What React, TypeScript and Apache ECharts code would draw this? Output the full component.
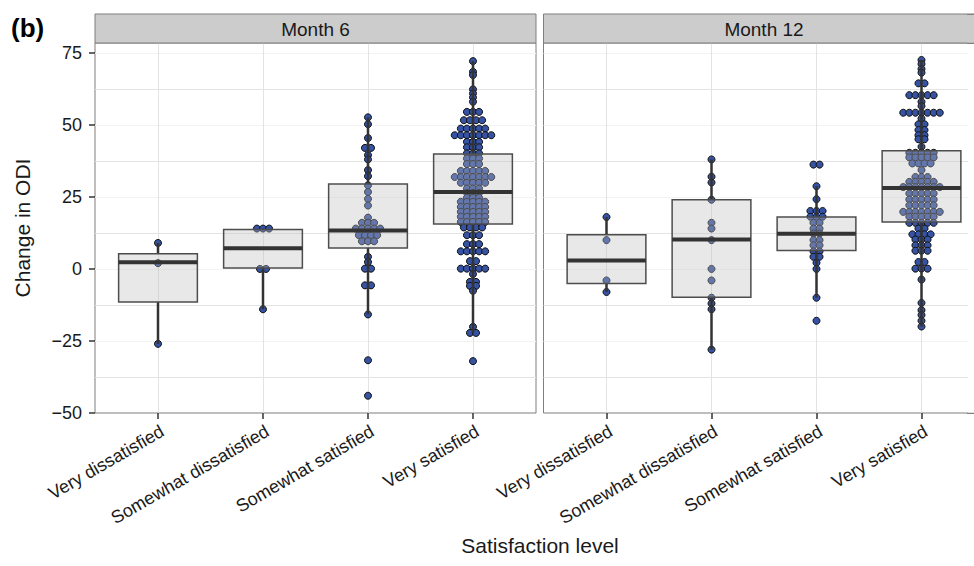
import React, { useEffect, useRef } from "react";
import * as echarts from "echarts";

// ---------- data ----------
const categories = ["Very dissatisfied", "Somewhat dissatisfied", "Somewhat satisfied", "Very satisfied"];
const panels = ["Month 6", "Month 12"];
const yTickValues = [-50, -25, 0, 25, 50, 75];

// dots: [value, number of dots stacked side by side at that value]
const m6VeryDissatisfied: [number, number][] = [[9, 1], [2, 1], [-26, 1]];
const m6SomewhatDissatisfied: [number, number][] = [[14, 3], [0, 2], [-14, 1]];
const m6SomewhatSatisfied: [number, number][] = [
  [52.6, 1], [50.2, 1], [45.4, 1], [42, 2], [39.5, 1], [38, 1], [34.3, 1], [32.2, 1], [29, 1], [26.7, 1],
  [24.3, 1], [22, 1], [17.8, 1], [16, 3], [14, 5], [11.7, 4], [9.6, 3], [4.2, 1], [2.4, 1], [0.1, 2],
  [-5.7, 2], [-15.8, 1], [-31.7, 1], [-44, 1],
];
const m6VerySatisfied: [number, number][] = [
  [72.1, 1], [68.4, 1], [67.3, 1], [62.3, 1], [60.9, 1], [59.5, 1], [58, 1], [54.5, 3], [51.6, 4], [48.7, 5],
  [46.4, 7], [44.1, 3], [42.2, 3], [40.1, 3], [38.3, 3], [36.4, 3], [34, 5], [31.9, 7], [29.9, 5], [27.9, 3],
  [26.4, 3], [24.7, 3], [23.3, 5], [21.5, 5], [19.8, 5], [18.1, 5], [16.3, 5], [14.4, 4], [11.7, 3], [8.6, 3],
  [6.1, 5], [2.7, 2], [0.1, 5], [-1.8, 1], [-4.5, 2], [-5.9, 2], [-7.6, 1], [-20.1, 1], [-22.2, 2], [-32, 1],
];

const m12VeryDissatisfied: [number, number][] = [[18, 1], [10, 1], [-4, 1], [-8, 1]];
const m12SomewhatDissatisfied: [number, number][] = [
  [38, 1], [32, 1], [30, 1], [24, 1], [16, 1], [14, 1], [10, 1], [0, 1], [-4, 1], [-10, 1], [-12, 1], [-14, 1], [-28, 1],
];
const m12SomewhatSatisfied: [number, number][] = [
  [36.2, 2], [28.7, 1], [24.2, 1], [20.1, 3], [18.1, 3], [16, 2], [14, 2], [12.3, 2], [10, 2], [8.2, 2],
  [6.1, 2], [4.2, 2], [2.1, 1], [0, 1], [-10, 1], [-18, 1],
];
const m12VerySatisfied: [number, number][] = [
  [72.5, 1], [71.1, 1], [69.4, 1], [68.1, 1], [64.4, 2], [60.3, 5], [58, 1], [56.5, 1], [54.2, 7], [52.2, 1],
  [50.2, 2], [48.2, 2], [46.4, 2], [45, 2], [42.4, 1], [40.3, 5], [38.7, 5], [36.6, 4], [34.3, 1], [31.9, 3],
  [30.2, 5], [28.4, 7], [26.2, 5], [24.1, 5], [22.1, 5], [19.8, 7], [18.1, 5], [16, 5], [14, 2], [12, 4],
  [10.2, 3], [8.2, 3], [6.3, 3], [2.4, 2], [0.1, 3], [-3.7, 1], [-11.8, 1], [-14.3, 1], [-16, 1], [-18, 1], [-20, 1],
];

// boxes: [lower whisker, Q1, median, Q3, upper whisker]
const m6Boxes: number[][] = [
  [-26, -11.5, 2.3, 5.3, 9],
  [-14, 0.3, 7.2, 13.7, 14],
  [-15.8, 7.3, 13.3, 29.5, 52.6],
  [-22.2, 15.6, 26.7, 39.9, 72.1],
];
const m12Boxes: number[][] = [
  [-8, -5.1, 2.9, 11.9, 18],
  [-28, -9.8, 10.2, 24, 38],
  [-10, 6.4, 12.2, 18, 28.7],
  [-20, 16.3, 28.1, 41, 72.5],
];

const m6Dots = [m6VeryDissatisfied, m6SomewhatDissatisfied, m6SomewhatSatisfied, m6VerySatisfied];
const m12Dots = [m12VeryDissatisfied, m12SomewhatDissatisfied, m12SomewhatSatisfied, m12VerySatisfied];

// ---------- styling / layout ----------
const FONT = "'Liberation Sans', Arial, Helvetica, sans-serif";
const DOT_STEP = 0.058; // horizontal spacing of stacked dots, in category units
const BOX_HALF = 0.375;
const Y_MIN = -50;
const Y_MAX = 78.4;
const GRID_TOP = 43;
const GRID_H = 370;
const GRID_W = 441;
const X_MIN = 0.4;
const X_MAX = 4.6;
const LEFT0 = 95;
const LEFT1 = 543.5; // right panel runs past the page edge (cropped)
const STRIP_TOP = 14;
const TICK_FONT = 18;
const STRIP_FONT = 19;
const TITLE_FONT = 21;
const BORDER = "#7f7f7f";
const STRIP_FILL = "#cccccc";
const PAGE_W = 974;
const PAGE_H = 566;
const EDGE_X = 968; // page-edge cover start

function dotPoints(groups: [number, number][][]) {
  const pts: number[][] = [];
  groups.forEach((g, gi) => {
    g.forEach(([v, n]) => {
      for (let i = 0; i < n; i++) {
        pts.push([gi + 1 + (i - (n - 1) / 2) * DOT_STEP, v]);
      }
    });
  });
  return pts;
}

function boxData(boxes: number[][]) {
  return boxes.map((b, i) => [i + 1, ...b]);
}

const renderBox = (params: any, api: any) => {
  const x = api.value(0);
  const lo = api.coord([x, api.value(1)]);
  const q1 = api.coord([x, api.value(2)]);
  const med = api.coord([x, api.value(3)]);
  const q3 = api.coord([x, api.value(4)]);
  const hi = api.coord([x, api.value(5)]);
  const hw = api.size([BOX_HALF, 0])[0];
  const cx = q1[0];
  return {
    type: "group",
    children: [
      { type: "line", shape: { x1: cx, y1: hi[1], x2: cx, y2: q3[1] }, style: { stroke: "#333333", lineWidth: 2.5 } },
      { type: "line", shape: { x1: cx, y1: q1[1], x2: cx, y2: lo[1] }, style: { stroke: "#333333", lineWidth: 2.5 } },
      {
        type: "rect",
        shape: { x: cx - hw, y: q3[1], width: hw * 2, height: q1[1] - q3[1] },
        style: { fill: "rgba(190,190,190,0.35)", stroke: "#4d4d4d", lineWidth: 1.5 },
      },
      { type: "line", shape: { x1: cx - hw, y1: med[1], x2: cx + hw, y2: med[1] }, style: { stroke: "#333333", lineWidth: 4 } },
    ],
  };
};

function xAxisFor(gridIndex: number) {
  return {
    type: "value",
    gridIndex,
    min: X_MIN,
    max: X_MAX,
    axisLine: { show: false, onZero: false },
    axisTick: { show: true, customValues: [1, 2, 3, 4], length: 6, lineStyle: { color: "#333333", width: 1.5 } },
    axisLabel: {
      customValues: [1, 2, 3, 4],
      formatter: (v: number) => categories[Math.round(v) - 1] || "",
      rotate: 30,
      align: "right",
      verticalAlign: "top",
      margin: 9,
      fontSize: TICK_FONT,
      fontFamily: FONT,
      color: "#1a1a1a",
    },
    splitLine: { show: true, lineStyle: { color: "#e3e3e3", width: 1 } },
  };
}

function gridYAxis(gridIndex: number) {
  return {
    type: "value",
    gridIndex,
    min: Y_MIN,
    max: Y_MAX,
    interval: 12.5,
    position: "left",
    axisLine: { show: false, onZero: false },
    axisTick: { show: false },
    axisLabel: { show: false },
    splitLine: {
      show: true,
      showMinLine: false,
      showMaxLine: false,
      lineStyle: { color: ["#e3e3e3", "#f3f3f3"], width: 1 },
    },
  };
}

const gridBase = {
  top: GRID_TOP,
  width: GRID_W,
  height: GRID_H,
  containLabel: false,
  outerBoundsMode: "none",
  show: true,
  borderColor: BORDER,
  borderWidth: 1,
  backgroundColor: "#ffffff",
};

export default function App() {
  const ref = useRef<HTMLDivElement>(null);
  useEffect(() => {
    if (!ref.current) return;
    const chart = echarts.init(ref.current, undefined, { renderer: "svg" });
    const textStyleBase = { fontFamily: FONT, fill: "#1a1a1a" };
    const strip = (left: number) => ({
      type: "rect",
      z: 100,
      shape: { x: left, y: STRIP_TOP, width: GRID_W, height: GRID_TOP - STRIP_TOP },
      style: { fill: STRIP_FILL, stroke: BORDER, lineWidth: 1 },
    });
    const stripText = (left: number, text: string) => ({
      type: "text",
      z: 101,
      x: left + GRID_W / 2,
      y: 29,
      style: { ...textStyleBase, text, fontSize: STRIP_FONT, align: "center", verticalAlign: "middle" },
    });
    const edgeLine = (y: number) => ({
      type: "line",
      z: 302,
      shape: { x1: EDGE_X - 1, y1: y, x2: PAGE_W + 2, y2: y },
      style: { stroke: BORDER, lineWidth: 1 },
    });
    chart.setOption({
      animation: false,
      backgroundColor: "#ffffff",
      grid: [
        { ...gridBase, left: LEFT0 },
        { ...gridBase, left: LEFT1 },
      ],
      xAxis: [xAxisFor(0), xAxisFor(1)],
      yAxis: [
        gridYAxis(0),
        {
          type: "value",
          gridIndex: 0,
          min: Y_MIN,
          max: Y_MAX,
          position: "left",
          axisLine: { show: false, onZero: false },
          axisTick: { show: true, customValues: yTickValues, length: 6, lineStyle: { color: "#333333", width: 1.5 } },
          axisLabel: {
            customValues: yTickValues,
            margin: 13,
            fontSize: TICK_FONT,
            fontFamily: FONT,
            color: "#1a1a1a",
            formatter: (v: number) => (v < 0 ? "\u2212" + Math.abs(v) : String(v)),
          },
          splitLine: { show: false },
        },
        gridYAxis(1),
      ],
      series: [
        {
          type: "scatter",
          xAxisIndex: 0,
          yAxisIndex: 0,
          data: dotPoints(m6Dots),
          symbolSize: 7,
          itemStyle: { color: "#3552a3", borderColor: "#111111", borderWidth: 1, opacity: 1 },
          z: 2,
        },
        {
          type: "custom",
          xAxisIndex: 0,
          yAxisIndex: 0,
          data: boxData(m6Boxes),
          encode: { x: 0, y: [1, 2, 3, 4, 5] },
          renderItem: renderBox,
          z: 3,
        },
        {
          type: "scatter",
          xAxisIndex: 1,
          yAxisIndex: 2,
          data: dotPoints(m12Dots),
          symbolSize: 7,
          itemStyle: { color: "#3552a3", borderColor: "#111111", borderWidth: 1, opacity: 1 },
          z: 2,
        },
        {
          type: "custom",
          xAxisIndex: 1,
          yAxisIndex: 2,
          data: boxData(m12Boxes),
          encode: { x: 0, y: [1, 2, 3, 4, 5] },
          renderItem: renderBox,
          z: 3,
        },
      ],
      graphic: [
        strip(LEFT0),
        strip(LEFT1),
        stripText(LEFT0, panels[0]),
        stripText(LEFT1, panels[1]),
        {
          type: "text",
          z: 101,
          x: 11,
          y: 28,
          style: { ...textStyleBase, text: "(b)", fontSize: 26, fontWeight: "bold", align: "left", verticalAlign: "middle", fill: "#000" },
        },
        {
          type: "text",
          z: 101,
          x: 22,
          y: 228,
          rotation: Math.PI / 2,
          style: { ...textStyleBase, text: "Change in ODI", fontSize: TITLE_FONT, align: "center", verticalAlign: "middle" },
        },
        {
          type: "text",
          z: 101,
          x: 540,
          y: 545,
          style: { ...textStyleBase, text: "Satisfaction level", fontSize: TITLE_FONT, align: "center", verticalAlign: "middle" },
        },
        // the reference is cropped at the right page edge: no closing border there
        {
          type: "rect",
          z: 300,
          shape: { x: EDGE_X, y: GRID_TOP + 1, width: PAGE_W - EDGE_X + 4, height: GRID_H - 1.5 },
          style: { fill: "#ffffff" },
        },
        {
          type: "rect",
          z: 301,
          shape: { x: EDGE_X - 1, y: STRIP_TOP + 0.5, width: PAGE_W - EDGE_X + 5, height: GRID_TOP - STRIP_TOP - 1 },
          style: { fill: STRIP_FILL },
        },
        edgeLine(STRIP_TOP + 0.5),
        edgeLine(GRID_TOP + 0.5),
        edgeLine(GRID_TOP + GRID_H + 0.5),
      ],
    });
    return () => chart.dispose();
  }, []);
  return (
    <div style={{ position: "absolute", left: 0, top: 0, width: PAGE_W, height: PAGE_H, overflow: "hidden", background: "#fff" }}>
      <div ref={ref} style={{ width: PAGE_W, height: PAGE_H }} />
    </div>
  );
}
